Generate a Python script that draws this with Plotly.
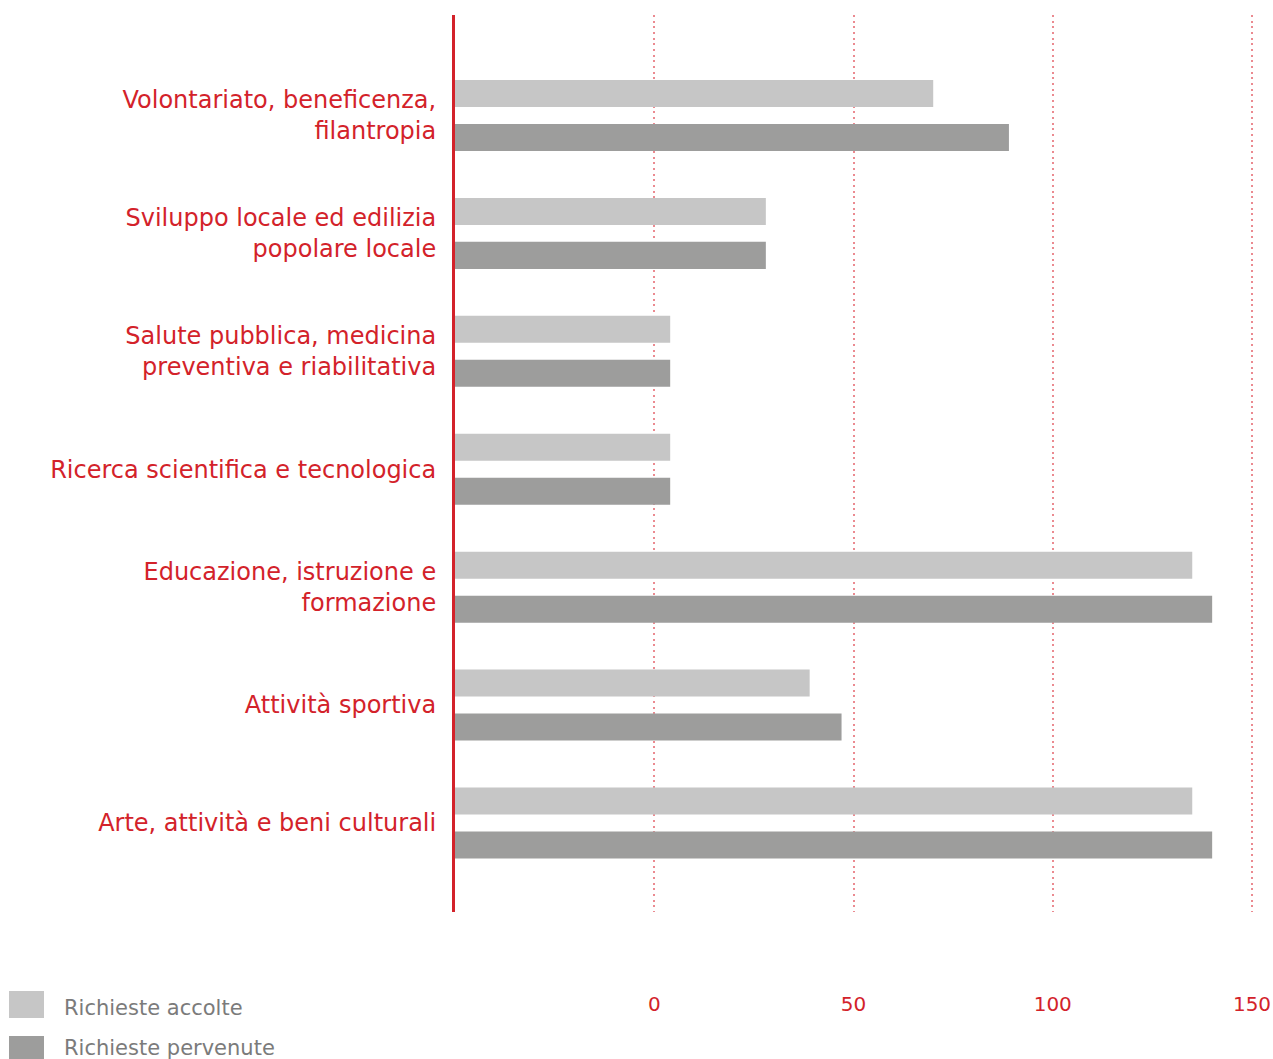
import plotly.graph_objects as go

# ---- data ----
categories = [
    "Volontariato, beneficenza,<br>filantropia",
    "Sviluppo locale ed edilizia<br>popolare locale",
    "Salute pubblica, medicina<br>preventiva e riabilitativa",
    "Ricerca scientifica e tecnologica",
    "Educazione, istruzione e<br>formazione",
    "Attività sportiva",
    "Arte, attività e beni culturali",
]
richieste_accolte = [70, 28, 4, 4, 135, 39, 135]
richieste_pervenute = [89, 28, 4, 4, 140, 47, 140]
series_names = ["Richieste accolte", "Richieste pervenute"]
x_ticks = [0, 50, 100, 150]

# ---- style ----
AXIS_START = -50
RED = "#d3222a"
GRID = "rgba(222,60,70,0.6)"
LIGHT = "#c6c6c6"
DARK = "#9d9d9c"
FONT = "DejaVu Sans"

W, H = 1273, 1059
ML, MR, MT, MB = 455, 17, 15, 147
PW, PH = W - ML - MR, H - MT - MB


def px_x(px):
    return (px - ML) / PW


def px_y(py):
    return (H - MB - py) / PH


fig = go.Figure()
for name, vals, col in [
    (series_names[0], richieste_accolte, LIGHT),
    (series_names[1], richieste_pervenute, DARK),
]:
    fig.add_trace(go.Bar(
        y=categories,
        x=[v - AXIS_START for v in vals],
        base=AXIS_START,
        orientation="h",
        name=name,
        marker=dict(color=col, line=dict(width=0)),
        customdata=vals,
        hovertemplate="%{y}: %{customdata}<extra>" + name + "</extra>",
        showlegend=False,
    ))

fig.update_layout(
    width=W, height=H,
    margin=dict(l=ML, r=MR, t=MT, b=MB, pad=0, autoexpand=False),
    paper_bgcolor="white", plot_bgcolor="white",
    barmode="group", bargap=0.254, bargroupgap=0.386,
    font=dict(family=FONT, color=RED, size=22),
)
fig.update_xaxes(
    range=[AXIS_START, 151], automargin=False,
    tickvals=x_ticks, ticktext=[str(t) for t in x_ticks],
    showgrid=True, gridcolor=GRID, gridwidth=2, griddash="2px,3.67px",
    zeroline=False, showline=False, ticks="",
    tickfont=dict(size=20, color=RED, family=FONT),
    ticklabelstandoff=78,
)
fig.update_yaxes(
    type="category", categoryorder="array", categoryarray=categories,
    range=[6.755, -0.852], automargin=False,
    showgrid=False, zeroline=False,
    showline=True, linecolor=RED, linewidth=3,
    ticks="", tickfont=dict(size=24, color=RED, family=FONT),
    ticklabelstandoff=11,
)

# legend drawn as swatches + labels at the bottom left
legend_items = [
    (series_names[0], LIGHT, 991, 1018, 1008),
    (series_names[1], DARK, 1036, 1063, 1048),
]
for name, col, y0, y1, ty in legend_items:
    fig.add_shape(type="rect", xref="paper", yref="paper",
                  x0=px_x(9), x1=px_x(44), y0=px_y(y1), y1=px_y(y0),
                  fillcolor=col, line=dict(width=0), layer="above")
    fig.add_annotation(xref="paper", yref="paper", x=px_x(62), y=px_y(ty),
                       text=name, showarrow=False, xanchor="left", yanchor="middle",
                       font=dict(family=FONT, size=21, color="#7b7b7b"))

fig.write_html("out.html", config={"displayModeBar": False},
               post_script="document.body.style.margin='0';")
